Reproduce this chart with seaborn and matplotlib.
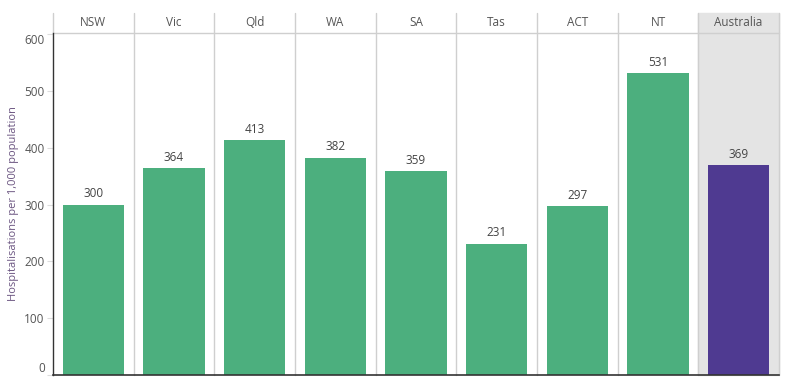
import pandas as pd
import matplotlib
matplotlib.use("Agg")
import matplotlib.pyplot as plt
import seaborn as sns

# Chart data
states = ["NSW", "Vic", "Qld", "WA", "SA", "Tas", "ACT", "NT", "Australia"]
rates = [300, 364, 413, 382, 359, 231, 297, 531, 369]
y_ticks = [0, 100, 200, 300, 400, 500, 600]

df = pd.DataFrame({"state": states, "rate": rates})

green = "#4caf7e"
purple = "#4f3a91"
grid_col = "#cfcfcf"
text_col = "#555555"

sns.set_theme(style="white")
plt.rcParams["font.family"] = ["Open Sans", "DejaVu Sans"]

fig = plt.figure(figsize=(7.9, 3.83), dpi=100)
ax = fig.add_axes([53 / 790, 8 / 383, 726 / 790, 342 / 383])

palette = {s: (purple if s == "Australia" else green) for s in states}
sns.barplot(data=df, x="state", y="rate", hue="state", palette=palette,
            width=0.76, saturation=1, legend=False, linewidth=0,
            ax=ax, zorder=3)

ax.set_xlim(-0.5, len(states) - 0.5)
ax.set_ylim(0, 602)

header_top = 1 + 20 / 342

# Australia panel background (incl. header)
ax.axvspan(len(states) - 1.5, len(states) - 0.5, ymin=0, ymax=header_top,
           color="#e4e4e4", zorder=0, clip_on=False)

# column separators
ax.axvline(-0.5, ymin=1, ymax=header_top, color=grid_col, lw=1,
           zorder=1, clip_on=False)
for i in range(len(states)):
    ax.axvline(i + 0.5, ymin=0, ymax=header_top, color=grid_col, lw=1,
               zorder=1, clip_on=False)
# header bottom line
ax.axhline(602, color=grid_col, lw=1, zorder=1, clip_on=False)

# header labels
for i, s in enumerate(states):
    ax.text(i, 1 + 10 / 342, s, transform=ax.get_xaxis_transform(),
            ha="center", va="center", fontsize=8.5, color=text_col)

# value labels
for i, v in enumerate(rates):
    ax.text(i, v + 8, str(v), ha="center", va="bottom", fontsize=8.5,
            color="#444444", zorder=4)

ax.set_yticks(y_ticks)
ax.set_yticklabels([str(t) for t in y_ticks])
ax.tick_params(axis="y", length=4, width=0.8, color="#dddddd",
               labelsize=8.5, labelcolor=text_col, pad=2, left=True)
# keep end labels inside the plot area
labels = ax.get_yticklabels()
labels[0].set_verticalalignment("bottom")
labels[-1].set_verticalalignment("top")
ax.set_xticks([])
ax.set_xlabel("")
ax.set_ylabel("Hospitalisations per 1,000 population", fontsize=8,
              color="#6a5480", labelpad=4)

for side in ["top", "right"]:
    ax.spines[side].set_visible(False)
ax.spines["left"].set_color("#333333")
ax.spines["left"].set_linewidth(1)
ax.spines["bottom"].set_color("#333333")
ax.spines["bottom"].set_linewidth(1.2)
ax.spines["bottom"].set_zorder(5)

fig.savefig("out.png", dpi=100)
